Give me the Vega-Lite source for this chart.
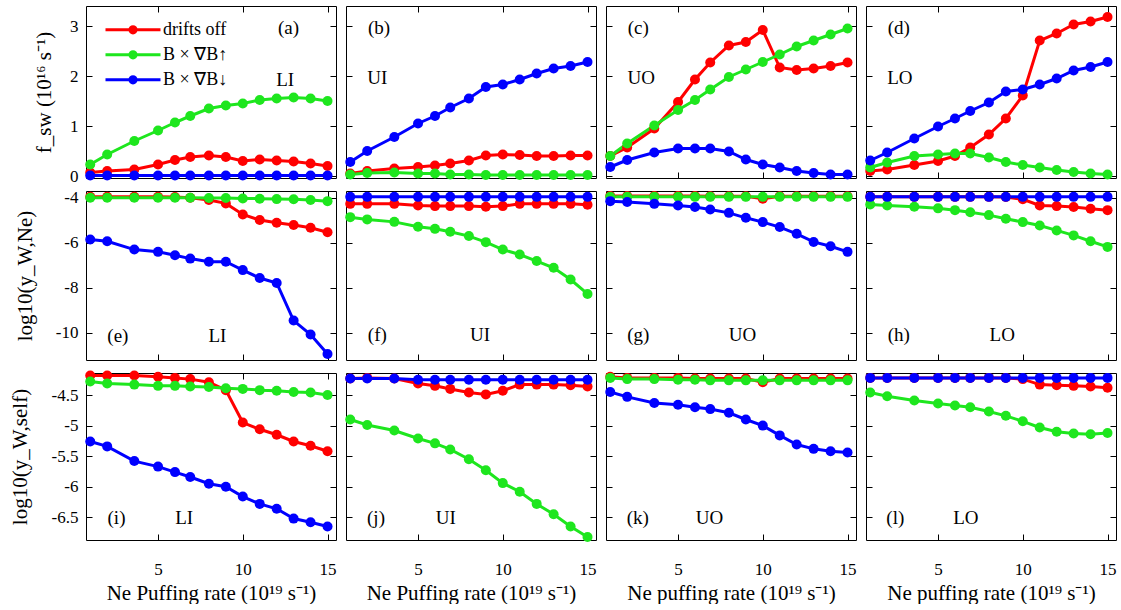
{
"$schema": "https://vega.github.io/schema/vega-lite/v6.json",
"padding": {"left": 8, "top": 5, "right": 4, "bottom": 0},
"background": "white",
"config": {
  "font": "Liberation Serif",
  "view": {"stroke": "#000000", "strokeWidth": 1},
  "axis": {"domain": false, "grid": false, "tickColor": "#000000", "tickSize": -6, "tickWidth": 1, "labelFontSize": 17, "labelColor": "#000000", "labelFont": "Liberation Serif", "titleFont": "Liberation Serif", "titleFontSize": 21, "titleFontWeight": "normal", "titleColor": "#000000", "labelFlush": false},
  "axisLeft": {"labelPadding": 14},
  "axisBottom": {"labelPadding": 27},
  "text": {"font": "Liberation Serif", "fontSize": 19, "color": "#000000"},
  "legend": {"labelFont": "Liberation Serif", "labelColor": "#000000"}
},
"datasets": {"d": [
{"p":"a","x":1,"r":0.07,"g":0.23,"b":0.01},{"p":"a","x":2,"r":0.10,"g":0.43,"b":0.01},{"p":"a","x":3.6,"r":0.13,"g":0.70,"b":0.01},{"p":"a","x":5,"r":0.23,"g":0.91,"b":0.01},{"p":"a","x":6,"r":0.32,"g":1.07,"b":0.01},{"p":"a","x":6.9,"r":0.38,"g":1.20,"b":0.01},{"p":"a","x":8,"r":0.41,"g":1.35,"b":0.01},{"p":"a","x":9,"r":0.38,"g":1.41,"b":0.01},{"p":"a","x":10,"r":0.30,"g":1.45,"b":0.01},{"p":"a","x":11,"r":0.33,"g":1.52,"b":0.01},{"p":"a","x":12,"r":0.31,"g":1.55,"b":0.01},{"p":"a","x":13,"r":0.29,"g":1.57,"b":0.01},{"p":"a","x":14,"r":0.25,"g":1.55,"b":0.01},{"p":"a","x":15,"r":0.20,"g":1.50,"b":0.01},
{"p":"b","x":1,"r":0.05,"g":0.03,"b":0.28},{"p":"b","x":2,"r":0.10,"g":0.06,"b":0.50},{"p":"b","x":3.6,"r":0.15,"g":0.07,"b":0.78},{"p":"b","x":5,"r":0.18,"g":0.05,"b":1.05},{"p":"b","x":6,"r":0.21,"g":0.05,"b":1.20},{"p":"b","x":6.9,"r":0.25,"g":0.03,"b":1.37},{"p":"b","x":8,"r":0.31,"g":0.03,"b":1.55},{"p":"b","x":9,"r":0.41,"g":0.02,"b":1.78},{"p":"b","x":10,"r":0.43,"g":0.02,"b":1.83},{"p":"b","x":11,"r":0.42,"g":0.02,"b":1.93},{"p":"b","x":12,"r":0.40,"g":0.02,"b":2.05},{"p":"b","x":13,"r":0.40,"g":0.02,"b":2.15},{"p":"b","x":14,"r":0.41,"g":0.02,"b":2.20},{"p":"b","x":15,"r":0.41,"g":0.02,"b":2.28},
{"p":"c","x":1,"r":0.40,"g":0.40,"b":0.18},{"p":"c","x":2,"r":0.57,"g":0.65,"b":0.32},{"p":"c","x":3.6,"r":0.95,"g":1.01,"b":0.47},{"p":"c","x":5,"r":1.48,"g":1.32,"b":0.55},{"p":"c","x":6,"r":1.93,"g":1.52,"b":0.55},{"p":"c","x":6.9,"r":2.27,"g":1.73,"b":0.55},{"p":"c","x":8,"r":2.61,"g":1.98,"b":0.49},{"p":"c","x":9,"r":2.68,"g":2.13,"b":0.33},{"p":"c","x":10,"r":2.92,"g":2.28,"b":0.23},{"p":"c","x":11,"r":2.17,"g":2.43,"b":0.17},{"p":"c","x":12,"r":2.12,"g":2.59,"b":0.10},{"p":"c","x":13,"r":2.15,"g":2.71,"b":0.06},{"p":"c","x":14,"r":2.20,"g":2.83,"b":0.03},{"p":"c","x":15,"r":2.27,"g":2.95,"b":0.03},
{"p":"d","x":1,"r":0.10,"g":0.17,"b":0.31},{"p":"d","x":2,"r":0.13,"g":0.27,"b":0.47},{"p":"d","x":3.6,"r":0.22,"g":0.40,"b":0.75},{"p":"d","x":5,"r":0.30,"g":0.43,"b":0.99},{"p":"d","x":6,"r":0.40,"g":0.45,"b":1.15},{"p":"d","x":6.9,"r":0.57,"g":0.45,"b":1.30},{"p":"d","x":8,"r":0.83,"g":0.37,"b":1.47},{"p":"d","x":9,"r":1.15,"g":0.28,"b":1.69},{"p":"d","x":10,"r":1.61,"g":0.22,"b":1.73},{"p":"d","x":11,"r":2.71,"g":0.17,"b":1.83},{"p":"d","x":12,"r":2.85,"g":0.12,"b":1.95},{"p":"d","x":13,"r":3.03,"g":0.08,"b":2.11},{"p":"d","x":14,"r":3.09,"g":0.05,"b":2.18},{"p":"d","x":15,"r":3.18,"g":0.03,"b":2.28},
{"p":"e","x":1,"r":-3.96,"g":-4.0,"b":-5.85},{"p":"e","x":2,"r":-3.96,"g":-4.0,"b":-5.93},{"p":"e","x":3.6,"r":-3.96,"g":-4.0,"b":-6.30},{"p":"e","x":5,"r":-3.96,"g":-4.0,"b":-6.40},{"p":"e","x":6,"r":-3.97,"g":-4.0,"b":-6.55},{"p":"e","x":6.9,"r":-4.0,"g":-4.0,"b":-6.70},{"p":"e","x":8,"r":-4.10,"g":-4.01,"b":-6.84},{"p":"e","x":9,"r":-4.25,"g":-4.01,"b":-6.84},{"p":"e","x":10,"r":-4.74,"g":-4.03,"b":-7.21},{"p":"e","x":11,"r":-4.99,"g":-4.04,"b":-7.56},{"p":"e","x":12,"r":-5.11,"g":-4.06,"b":-7.78},{"p":"e","x":13,"r":-5.21,"g":-4.07,"b":-9.45},{"p":"e","x":14,"r":-5.33,"g":-4.10,"b":-10.07},{"p":"e","x":15,"r":-5.53,"g":-4.15,"b":-10.93},
{"p":"f","x":1,"r":-4.27,"g":-4.86,"b":-3.96},{"p":"f","x":2,"r":-4.27,"g":-4.96,"b":-3.96},{"p":"f","x":3.6,"r":-4.27,"g":-5.07,"b":-3.96},{"p":"f","x":5,"r":-4.34,"g":-5.29,"b":-3.96},{"p":"f","x":6,"r":-4.37,"g":-5.38,"b":-3.96},{"p":"f","x":6.9,"r":-4.37,"g":-5.51,"b":-3.96},{"p":"f","x":8,"r":-4.37,"g":-5.70,"b":-3.96},{"p":"f","x":9,"r":-4.40,"g":-5.97,"b":-3.96},{"p":"f","x":10,"r":-4.37,"g":-6.30,"b":-3.96},{"p":"f","x":11,"r":-4.27,"g":-6.52,"b":-3.96},{"p":"f","x":12,"r":-4.27,"g":-6.81,"b":-3.96},{"p":"f","x":13,"r":-4.27,"g":-7.11,"b":-3.96},{"p":"f","x":14,"r":-4.27,"g":-7.63,"b":-3.96},{"p":"f","x":15,"r":-4.31,"g":-8.27,"b":-3.96},
{"p":"g","x":1,"r":-3.92,"g":-3.96,"b":-4.15},{"p":"g","x":2,"r":-3.92,"g":-3.96,"b":-4.19},{"p":"g","x":3.6,"r":-3.92,"g":-3.96,"b":-4.27},{"p":"g","x":5,"r":-3.92,"g":-3.96,"b":-4.34},{"p":"g","x":6,"r":-3.92,"g":-3.96,"b":-4.41},{"p":"g","x":6.9,"r":-3.93,"g":-3.96,"b":-4.52},{"p":"g","x":8,"r":-3.93,"g":-3.96,"b":-4.67},{"p":"g","x":9,"r":-3.93,"g":-3.96,"b":-4.89},{"p":"g","x":10,"r":-4.04,"g":-3.96,"b":-5.08},{"p":"g","x":11,"r":-3.93,"g":-3.96,"b":-5.30},{"p":"g","x":12,"r":-3.93,"g":-3.96,"b":-5.60},{"p":"g","x":13,"r":-3.93,"g":-3.96,"b":-5.96},{"p":"g","x":14,"r":-3.93,"g":-3.96,"b":-6.15},{"p":"g","x":15,"r":-3.93,"g":-3.96,"b":-6.40},
{"p":"h","x":1,"r":-3.96,"g":-4.30,"b":-3.96},{"p":"h","x":2,"r":-3.96,"g":-4.34,"b":-3.96},{"p":"h","x":3.6,"r":-3.96,"g":-4.40,"b":-3.96},{"p":"h","x":5,"r":-3.96,"g":-4.47,"b":-3.96},{"p":"h","x":6,"r":-3.96,"g":-4.55,"b":-3.96},{"p":"h","x":6.9,"r":-3.96,"g":-4.64,"b":-3.96},{"p":"h","x":8,"r":-3.96,"g":-4.77,"b":-3.96},{"p":"h","x":9,"r":-3.97,"g":-4.93,"b":-3.96},{"p":"h","x":10,"r":-4.07,"g":-5.08,"b":-3.96},{"p":"h","x":11,"r":-4.34,"g":-5.23,"b":-3.96},{"p":"h","x":12,"r":-4.37,"g":-5.45,"b":-3.96},{"p":"h","x":13,"r":-4.41,"g":-5.67,"b":-3.96},{"p":"h","x":14,"r":-4.49,"g":-5.93,"b":-3.96},{"p":"h","x":15,"r":-4.55,"g":-6.18,"b":-3.96},
{"p":"i","x":1,"r":-4.18,"g":-4.28,"b":-5.26},{"p":"i","x":2,"r":-4.18,"g":-4.31,"b":-5.34},{"p":"i","x":3.6,"r":-4.18,"g":-4.33,"b":-5.58},{"p":"i","x":5,"r":-4.20,"g":-4.35,"b":-5.67},{"p":"i","x":6,"r":-4.22,"g":-4.35,"b":-5.76},{"p":"i","x":6.9,"r":-4.24,"g":-4.36,"b":-5.84},{"p":"i","x":8,"r":-4.29,"g":-4.37,"b":-5.95},{"p":"i","x":9,"r":-4.42,"g":-4.39,"b":-6.00},{"p":"i","x":10,"r":-4.95,"g":-4.40,"b":-6.16},{"p":"i","x":11,"r":-5.06,"g":-4.42,"b":-6.28},{"p":"i","x":12,"r":-5.15,"g":-4.43,"b":-6.36},{"p":"i","x":13,"r":-5.26,"g":-4.45,"b":-6.52},{"p":"i","x":14,"r":-5.33,"g":-4.46,"b":-6.58},{"p":"i","x":15,"r":-5.42,"g":-4.50,"b":-6.65},
{"p":"j","x":1,"r":-4.23,"g":-4.90,"b":-4.23},{"p":"j","x":2,"r":-4.22,"g":-4.99,"b":-4.23},{"p":"j","x":3.6,"r":-4.23,"g":-5.08,"b":-4.23},{"p":"j","x":5,"r":-4.31,"g":-5.21,"b":-4.25},{"p":"j","x":6,"r":-4.35,"g":-5.29,"b":-4.25},{"p":"j","x":6.9,"r":-4.40,"g":-5.39,"b":-4.25},{"p":"j","x":8,"r":-4.46,"g":-5.55,"b":-4.25},{"p":"j","x":9,"r":-4.49,"g":-5.73,"b":-4.25},{"p":"j","x":10,"r":-4.43,"g":-5.94,"b":-4.25},{"p":"j","x":11,"r":-4.33,"g":-6.08,"b":-4.25},{"p":"j","x":12,"r":-4.33,"g":-6.28,"b":-4.25},{"p":"j","x":13,"r":-4.33,"g":-6.45,"b":-4.25},{"p":"j","x":14,"r":-4.34,"g":-6.65,"b":-4.25},{"p":"j","x":15,"r":-4.36,"g":-6.82,"b":-4.25},
{"p":"k","x":1,"r":-4.20,"g":-4.22,"b":-4.45},{"p":"k","x":2,"r":-4.22,"g":-4.24,"b":-4.53},{"p":"k","x":3.6,"r":-4.22,"g":-4.24,"b":-4.63},{"p":"k","x":5,"r":-4.22,"g":-4.25,"b":-4.66},{"p":"k","x":6,"r":-4.23,"g":-4.25,"b":-4.70},{"p":"k","x":6.9,"r":-4.23,"g":-4.26,"b":-4.73},{"p":"k","x":8,"r":-4.23,"g":-4.26,"b":-4.79},{"p":"k","x":9,"r":-4.23,"g":-4.26,"b":-4.90},{"p":"k","x":10,"r":-4.29,"g":-4.26,"b":-5.00},{"p":"k","x":11,"r":-4.23,"g":-4.26,"b":-5.16},{"p":"k","x":12,"r":-4.23,"g":-4.26,"b":-5.31},{"p":"k","x":13,"r":-4.23,"g":-4.26,"b":-5.38},{"p":"k","x":14,"r":-4.23,"g":-4.26,"b":-5.42},{"p":"k","x":15,"r":-4.23,"g":-4.26,"b":-5.44},
{"p":"l","x":1,"r":-4.22,"g":-4.46,"b":-4.22},{"p":"l","x":2,"r":-4.22,"g":-4.52,"b":-4.22},{"p":"l","x":3.6,"r":-4.22,"g":-4.59,"b":-4.22},{"p":"l","x":5,"r":-4.22,"g":-4.64,"b":-4.22},{"p":"l","x":6,"r":-4.22,"g":-4.67,"b":-4.22},{"p":"l","x":6.9,"r":-4.22,"g":-4.70,"b":-4.22},{"p":"l","x":8,"r":-4.22,"g":-4.77,"b":-4.22},{"p":"l","x":9,"r":-4.22,"g":-4.84,"b":-4.22},{"p":"l","x":10,"r":-4.24,"g":-4.93,"b":-4.22},{"p":"l","x":11,"r":-4.33,"g":-5.03,"b":-4.22},{"p":"l","x":12,"r":-4.34,"g":-5.10,"b":-4.22},{"p":"l","x":13,"r":-4.35,"g":-5.13,"b":-4.22},{"p":"l","x":14,"r":-4.36,"g":-5.14,"b":-4.22},{"p":"l","x":15,"r":-4.38,"g":-5.12,"b":-4.22}
]},
"spacing": 7,
"vconcat": [
{"spacing": 3, "vconcat": [
{"spacing": 10, "bounds": "flush", "hconcat": [
{"width": 250, "height": 172, "resolve": {"axis": {"x": "independent", "y": "independent"}}, "layer": [
 {"data": {"name": "d"}, "transform": [{"filter": "datum.p=='a'"}, {"fold": ["r","g","b"], "as": ["s","y"]}], "mark": {"type": "line", "strokeWidth": 3},
  "encoding": {"x": {"field": "x", "type": "quantitative", "scale": {"domain": [0.75, 15.5], "nice": false, "zero": false}, "axis": {"orient": "bottom", "values": [5,10,15], "labels": false, "title": null}},
   "y": {"field": "y", "type": "quantitative", "scale": {"domain": [-0.04, 3.4], "nice": false, "zero": false}, "axis": {"orient": "left", "values": [0,1,2,3], "title": "f_sw (10¹⁶ s⁻¹)", "titleX": -42, "titleAngle": 270, "titleBaseline": "middle", "titleAlign": "center", "labelExpr": "replace(format(datum.value,'~g'),'−','-')"}},
   "color": {"field": "s", "type": "nominal", "scale": {"domain": ["r","g","b"], "range": ["#ff0000","#1ee61e","#0000ff"]},
    "legend": {"orient": "none", "legendX": 34, "legendY": 10.8, "title": null, "symbolType": "M-2.46,0L2.46,0M-0.143,0A0.143,0.143,0,1,1,0.143,0A0.143,0.143,0,1,1,-0.143,0M-0.277,0A0.277,0.277,0,1,1,0.277,0A0.277,0.277,0,1,1,-0.277,0", "symbolSize": 500, "symbolStrokeWidth": 3, "labelFontSize": 18, "labelOffset": 17, "rowPadding": 2, "labelExpr": "datum.value=='r'?'drifts off':datum.value=='g'?'B × ∇B↑':'B × ∇B↓'"}}}},
 {"data": {"name": "d"}, "transform": [{"filter": "datum.p=='a'"}, {"fold": ["r","g","b"], "as": ["s","y"]}], "mark": {"type": "circle", "size": 100, "opacity": 1},
  "encoding": {"x": {"field": "x", "type": "quantitative", "scale": {"domain": [0.75, 15.5], "nice": false, "zero": false}, "axis": {"orient": "top", "values": [5,10,15], "labels": false, "title": null}},
   "y": {"field": "y", "type": "quantitative", "scale": {"domain": [-0.04, 3.4], "nice": false, "zero": false}, "axis": {"orient": "right", "values": [0,1,2,3], "labels": false, "title": null}},
   "color": {"field": "s", "type": "nominal", "scale": {"domain": ["r","g","b"], "range": ["#ff0000","#1ee61e","#0000ff"]}, "legend": null},
   "order": {"field": "s", "sort": "descending"}}},
 {"data": {"values": [{}]}, "mark": {"type": "text", "text": "(a)"}, "encoding": {"x": {"datum": 12.7, "type": "quantitative", "scale": {"domain": [0.75, 15.5], "nice": false, "zero": false}, "axis": null}, "y": {"datum": 2.97, "type": "quantitative", "scale": {"domain": [-0.04, 3.4], "nice": false, "zero": false}, "axis": null}}},
 {"data": {"values": [{}]}, "mark": {"type": "text", "text": "LI"}, "encoding": {"x": {"datum": 12.5, "type": "quantitative", "scale": {"domain": [0.75, 15.5], "nice": false, "zero": false}, "axis": null}, "y": {"datum": 1.93, "type": "quantitative", "scale": {"domain": [-0.04, 3.4], "nice": false, "zero": false}, "axis": null}}}
]},
{"width": 250, "height": 172, "resolve": {"axis": {"x": "independent", "y": "independent"}}, "layer": [
 {"data": {"name": "d"}, "transform": [{"filter": "datum.p=='b'"}, {"fold": ["r","g","b"], "as": ["s","y"]}], "mark": {"type": "line", "strokeWidth": 3},
  "encoding": {"x": {"field": "x", "type": "quantitative", "scale": {"domain": [0.75, 15.5], "nice": false, "zero": false}, "axis": {"orient": "bottom", "values": [5,10,15], "labels": false, "title": null}},
   "y": {"field": "y", "type": "quantitative", "scale": {"domain": [-0.04, 3.4], "nice": false, "zero": false}, "axis": {"orient": "left", "values": [0,1,2,3], "labels": false, "title": null}},
   "color": {"field": "s", "type": "nominal", "scale": {"domain": ["r","g","b"], "range": ["#ff0000","#1ee61e","#0000ff"]}, "legend": null}}},
 {"data": {"name": "d"}, "transform": [{"filter": "datum.p=='b'"}, {"fold": ["r","g","b"], "as": ["s","y"]}], "mark": {"type": "circle", "size": 100, "opacity": 1},
  "encoding": {"x": {"field": "x", "type": "quantitative", "scale": {"domain": [0.75, 15.5], "nice": false, "zero": false}, "axis": {"orient": "top", "values": [5,10,15], "labels": false, "title": null}},
   "y": {"field": "y", "type": "quantitative", "scale": {"domain": [-0.04, 3.4], "nice": false, "zero": false}, "axis": {"orient": "right", "values": [0,1,2,3], "labels": false, "title": null}},
   "color": {"field": "s", "type": "nominal", "scale": {"domain": ["r","g","b"], "range": ["#ff0000","#1ee61e","#0000ff"]}, "legend": null},
   "order": {"field": "s", "sort": "descending"}}},
 {"data": {"values": [{}]}, "mark": {"type": "text", "text": "(b)"}, "encoding": {"x": {"datum": 2.7, "type": "quantitative", "scale": {"domain": [0.75, 15.5], "nice": false, "zero": false}, "axis": null}, "y": {"datum": 2.97, "type": "quantitative", "scale": {"domain": [-0.04, 3.4], "nice": false, "zero": false}, "axis": null}}},
 {"data": {"values": [{}]}, "mark": {"type": "text", "text": "UI"}, "encoding": {"x": {"datum": 2.6, "type": "quantitative", "scale": {"domain": [0.75, 15.5], "nice": false, "zero": false}, "axis": null}, "y": {"datum": 1.97, "type": "quantitative", "scale": {"domain": [-0.04, 3.4], "nice": false, "zero": false}, "axis": null}}}
]},
{"width": 250, "height": 172, "resolve": {"axis": {"x": "independent", "y": "independent"}}, "layer": [
 {"data": {"name": "d"}, "transform": [{"filter": "datum.p=='c'"}, {"fold": ["r","g","b"], "as": ["s","y"]}], "mark": {"type": "line", "strokeWidth": 3},
  "encoding": {"x": {"field": "x", "type": "quantitative", "scale": {"domain": [0.75, 15.5], "nice": false, "zero": false}, "axis": {"orient": "bottom", "values": [5,10,15], "labels": false, "title": null}},
   "y": {"field": "y", "type": "quantitative", "scale": {"domain": [-0.04, 3.4], "nice": false, "zero": false}, "axis": {"orient": "left", "values": [0,1,2,3], "labels": false, "title": null}},
   "color": {"field": "s", "type": "nominal", "scale": {"domain": ["r","g","b"], "range": ["#ff0000","#1ee61e","#0000ff"]}, "legend": null}}},
 {"data": {"name": "d"}, "transform": [{"filter": "datum.p=='c'"}, {"fold": ["r","g","b"], "as": ["s","y"]}], "mark": {"type": "circle", "size": 100, "opacity": 1},
  "encoding": {"x": {"field": "x", "type": "quantitative", "scale": {"domain": [0.75, 15.5], "nice": false, "zero": false}, "axis": {"orient": "top", "values": [5,10,15], "labels": false, "title": null}},
   "y": {"field": "y", "type": "quantitative", "scale": {"domain": [-0.04, 3.4], "nice": false, "zero": false}, "axis": {"orient": "right", "values": [0,1,2,3], "labels": false, "title": null}},
   "color": {"field": "s", "type": "nominal", "scale": {"domain": ["r","g","b"], "range": ["#ff0000","#1ee61e","#0000ff"]}, "legend": null},
   "order": {"field": "s", "sort": "descending"}}},
 {"data": {"values": [{}]}, "mark": {"type": "text", "text": "(c)"}, "encoding": {"x": {"datum": 2.65, "type": "quantitative", "scale": {"domain": [0.75, 15.5], "nice": false, "zero": false}, "axis": null}, "y": {"datum": 2.97, "type": "quantitative", "scale": {"domain": [-0.04, 3.4], "nice": false, "zero": false}, "axis": null}}},
 {"data": {"values": [{}]}, "mark": {"type": "text", "text": "UO"}, "encoding": {"x": {"datum": 2.83, "type": "quantitative", "scale": {"domain": [0.75, 15.5], "nice": false, "zero": false}, "axis": null}, "y": {"datum": 1.97, "type": "quantitative", "scale": {"domain": [-0.04, 3.4], "nice": false, "zero": false}, "axis": null}}}
]},
{"width": 250, "height": 172, "resolve": {"axis": {"x": "independent", "y": "independent"}}, "layer": [
 {"data": {"name": "d"}, "transform": [{"filter": "datum.p=='d'"}, {"fold": ["r","g","b"], "as": ["s","y"]}], "mark": {"type": "line", "strokeWidth": 3},
  "encoding": {"x": {"field": "x", "type": "quantitative", "scale": {"domain": [0.75, 15.5], "nice": false, "zero": false}, "axis": {"orient": "bottom", "values": [5,10,15], "labels": false, "title": null}},
   "y": {"field": "y", "type": "quantitative", "scale": {"domain": [-0.04, 3.4], "nice": false, "zero": false}, "axis": {"orient": "left", "values": [0,1,2,3], "labels": false, "title": null}},
   "color": {"field": "s", "type": "nominal", "scale": {"domain": ["r","g","b"], "range": ["#ff0000","#1ee61e","#0000ff"]}, "legend": null}}},
 {"data": {"name": "d"}, "transform": [{"filter": "datum.p=='d'"}, {"fold": ["r","g","b"], "as": ["s","y"]}], "mark": {"type": "circle", "size": 100, "opacity": 1},
  "encoding": {"x": {"field": "x", "type": "quantitative", "scale": {"domain": [0.75, 15.5], "nice": false, "zero": false}, "axis": {"orient": "top", "values": [5,10,15], "labels": false, "title": null}},
   "y": {"field": "y", "type": "quantitative", "scale": {"domain": [-0.04, 3.4], "nice": false, "zero": false}, "axis": {"orient": "right", "values": [0,1,2,3], "labels": false, "title": null}},
   "color": {"field": "s", "type": "nominal", "scale": {"domain": ["r","g","b"], "range": ["#ff0000","#1ee61e","#0000ff"]}, "legend": null},
   "order": {"field": "s", "sort": "descending"}}},
 {"data": {"values": [{}]}, "mark": {"type": "text", "text": "(d)"}, "encoding": {"x": {"datum": 2.68, "type": "quantitative", "scale": {"domain": [0.75, 15.5], "nice": false, "zero": false}, "axis": null}, "y": {"datum": 2.97, "type": "quantitative", "scale": {"domain": [-0.04, 3.4], "nice": false, "zero": false}, "axis": null}}},
 {"data": {"values": [{}]}, "mark": {"type": "text", "text": "LO"}, "encoding": {"x": {"datum": 2.75, "type": "quantitative", "scale": {"domain": [0.75, 15.5], "nice": false, "zero": false}, "axis": null}, "y": {"datum": 1.97, "type": "quantitative", "scale": {"domain": [-0.04, 3.4], "nice": false, "zero": false}, "axis": null}}}
]}
]},
{"spacing": 10, "bounds": "flush", "hconcat": [
{"width": 250, "height": 169, "resolve": {"axis": {"x": "independent", "y": "independent"}}, "layer": [
 {"data": {"name": "d"}, "transform": [{"filter": "datum.p=='e'"}, {"fold": ["r","g","b"], "as": ["s","y"]}], "mark": {"type": "line", "strokeWidth": 3},
  "encoding": {"x": {"field": "x", "type": "quantitative", "scale": {"domain": [0.75, 15.5], "nice": false, "zero": false}, "axis": {"orient": "bottom", "values": [5,10,15], "labels": false, "title": null}},
   "y": {"field": "y", "type": "quantitative", "scale": {"domain": [-11.2, -3.7], "nice": false, "zero": false}, "axis": {"orient": "left", "values": [-10,-8,-6,-4], "title": "log10(y_W,Ne)", "titleX": -61, "titleAngle": 270, "titleBaseline": "middle", "titleAlign": "center", "labelExpr": "replace(format(datum.value,'~g'),'−','-')"}},
   "color": {"field": "s", "type": "nominal", "scale": {"domain": ["r","g","b"], "range": ["#ff0000","#1ee61e","#0000ff"]}, "legend": null}}},
 {"data": {"name": "d"}, "transform": [{"filter": "datum.p=='e'"}, {"fold": ["r","g","b"], "as": ["s","y"]}], "mark": {"type": "circle", "size": 100, "opacity": 1},
  "encoding": {"x": {"field": "x", "type": "quantitative", "scale": {"domain": [0.75, 15.5], "nice": false, "zero": false}, "axis": {"orient": "top", "values": [5,10,15], "labels": false, "title": null}},
   "y": {"field": "y", "type": "quantitative", "scale": {"domain": [-11.2, -3.7], "nice": false, "zero": false}, "axis": {"orient": "right", "values": [-10,-8,-6,-4], "labels": false, "title": null}},
   "color": {"field": "s", "type": "nominal", "scale": {"domain": ["r","g","b"], "range": ["#ff0000","#1ee61e","#0000ff"]}, "legend": null},
   "order": {"field": "s", "sort": "descending"}}},
 {"data": {"values": [{}]}, "mark": {"type": "text", "text": "(e)"}, "encoding": {"x": {"datum": 2.63, "type": "quantitative", "scale": {"domain": [0.75, 15.5], "nice": false, "zero": false}, "axis": null}, "y": {"datum": -10.15, "type": "quantitative", "scale": {"domain": [-11.2, -3.7], "nice": false, "zero": false}, "axis": null}}},
 {"data": {"values": [{}]}, "mark": {"type": "text", "text": "LI"}, "encoding": {"x": {"datum": 8.5, "type": "quantitative", "scale": {"domain": [0.75, 15.5], "nice": false, "zero": false}, "axis": null}, "y": {"datum": -10.15, "type": "quantitative", "scale": {"domain": [-11.2, -3.7], "nice": false, "zero": false}, "axis": null}}}
]},
{"width": 250, "height": 169, "resolve": {"axis": {"x": "independent", "y": "independent"}}, "layer": [
 {"data": {"name": "d"}, "transform": [{"filter": "datum.p=='f'"}, {"fold": ["r","g","b"], "as": ["s","y"]}], "mark": {"type": "line", "strokeWidth": 3},
  "encoding": {"x": {"field": "x", "type": "quantitative", "scale": {"domain": [0.75, 15.5], "nice": false, "zero": false}, "axis": {"orient": "bottom", "values": [5,10,15], "labels": false, "title": null}},
   "y": {"field": "y", "type": "quantitative", "scale": {"domain": [-11.2, -3.7], "nice": false, "zero": false}, "axis": {"orient": "left", "values": [-10,-8,-6,-4], "labels": false, "title": null}},
   "color": {"field": "s", "type": "nominal", "scale": {"domain": ["r","g","b"], "range": ["#ff0000","#1ee61e","#0000ff"]}, "legend": null}}},
 {"data": {"name": "d"}, "transform": [{"filter": "datum.p=='f'"}, {"fold": ["r","g","b"], "as": ["s","y"]}], "mark": {"type": "circle", "size": 100, "opacity": 1},
  "encoding": {"x": {"field": "x", "type": "quantitative", "scale": {"domain": [0.75, 15.5], "nice": false, "zero": false}, "axis": {"orient": "top", "values": [5,10,15], "labels": false, "title": null}},
   "y": {"field": "y", "type": "quantitative", "scale": {"domain": [-11.2, -3.7], "nice": false, "zero": false}, "axis": {"orient": "right", "values": [-10,-8,-6,-4], "labels": false, "title": null}},
   "color": {"field": "s", "type": "nominal", "scale": {"domain": ["r","g","b"], "range": ["#ff0000","#1ee61e","#0000ff"]}, "legend": null},
   "order": {"field": "s", "sort": "descending"}}},
 {"data": {"values": [{}]}, "mark": {"type": "text", "text": "(f)"}, "encoding": {"x": {"datum": 2.6, "type": "quantitative", "scale": {"domain": [0.75, 15.5], "nice": false, "zero": false}, "axis": null}, "y": {"datum": -10.07, "type": "quantitative", "scale": {"domain": [-11.2, -3.7], "nice": false, "zero": false}, "axis": null}}},
 {"data": {"values": [{}]}, "mark": {"type": "text", "text": "UI"}, "encoding": {"x": {"datum": 8.66, "type": "quantitative", "scale": {"domain": [0.75, 15.5], "nice": false, "zero": false}, "axis": null}, "y": {"datum": -10.07, "type": "quantitative", "scale": {"domain": [-11.2, -3.7], "nice": false, "zero": false}, "axis": null}}}
]},
{"width": 250, "height": 169, "resolve": {"axis": {"x": "independent", "y": "independent"}}, "layer": [
 {"data": {"name": "d"}, "transform": [{"filter": "datum.p=='g'"}, {"fold": ["r","g","b"], "as": ["s","y"]}], "mark": {"type": "line", "strokeWidth": 3},
  "encoding": {"x": {"field": "x", "type": "quantitative", "scale": {"domain": [0.75, 15.5], "nice": false, "zero": false}, "axis": {"orient": "bottom", "values": [5,10,15], "labels": false, "title": null}},
   "y": {"field": "y", "type": "quantitative", "scale": {"domain": [-11.2, -3.7], "nice": false, "zero": false}, "axis": {"orient": "left", "values": [-10,-8,-6,-4], "labels": false, "title": null}},
   "color": {"field": "s", "type": "nominal", "scale": {"domain": ["r","g","b"], "range": ["#ff0000","#1ee61e","#0000ff"]}, "legend": null}}},
 {"data": {"name": "d"}, "transform": [{"filter": "datum.p=='g'"}, {"fold": ["r","g","b"], "as": ["s","y"]}], "mark": {"type": "circle", "size": 100, "opacity": 1},
  "encoding": {"x": {"field": "x", "type": "quantitative", "scale": {"domain": [0.75, 15.5], "nice": false, "zero": false}, "axis": {"orient": "top", "values": [5,10,15], "labels": false, "title": null}},
   "y": {"field": "y", "type": "quantitative", "scale": {"domain": [-11.2, -3.7], "nice": false, "zero": false}, "axis": {"orient": "right", "values": [-10,-8,-6,-4], "labels": false, "title": null}},
   "color": {"field": "s", "type": "nominal", "scale": {"domain": ["r","g","b"], "range": ["#ff0000","#1ee61e","#0000ff"]}, "legend": null},
   "order": {"field": "s", "sort": "descending"}}},
 {"data": {"values": [{}]}, "mark": {"type": "text", "text": "(g)"}, "encoding": {"x": {"datum": 2.66, "type": "quantitative", "scale": {"domain": [0.75, 15.5], "nice": false, "zero": false}, "axis": null}, "y": {"datum": -10.07, "type": "quantitative", "scale": {"domain": [-11.2, -3.7], "nice": false, "zero": false}, "axis": null}}},
 {"data": {"values": [{}]}, "mark": {"type": "text", "text": "UO"}, "encoding": {"x": {"datum": 8.8, "type": "quantitative", "scale": {"domain": [0.75, 15.5], "nice": false, "zero": false}, "axis": null}, "y": {"datum": -10.07, "type": "quantitative", "scale": {"domain": [-11.2, -3.7], "nice": false, "zero": false}, "axis": null}}}
]},
{"width": 250, "height": 169, "resolve": {"axis": {"x": "independent", "y": "independent"}}, "layer": [
 {"data": {"name": "d"}, "transform": [{"filter": "datum.p=='h'"}, {"fold": ["r","g","b"], "as": ["s","y"]}], "mark": {"type": "line", "strokeWidth": 3},
  "encoding": {"x": {"field": "x", "type": "quantitative", "scale": {"domain": [0.75, 15.5], "nice": false, "zero": false}, "axis": {"orient": "bottom", "values": [5,10,15], "labels": false, "title": null}},
   "y": {"field": "y", "type": "quantitative", "scale": {"domain": [-11.2, -3.7], "nice": false, "zero": false}, "axis": {"orient": "left", "values": [-10,-8,-6,-4], "labels": false, "title": null}},
   "color": {"field": "s", "type": "nominal", "scale": {"domain": ["r","g","b"], "range": ["#ff0000","#1ee61e","#0000ff"]}, "legend": null}}},
 {"data": {"name": "d"}, "transform": [{"filter": "datum.p=='h'"}, {"fold": ["r","g","b"], "as": ["s","y"]}], "mark": {"type": "circle", "size": 100, "opacity": 1},
  "encoding": {"x": {"field": "x", "type": "quantitative", "scale": {"domain": [0.75, 15.5], "nice": false, "zero": false}, "axis": {"orient": "top", "values": [5,10,15], "labels": false, "title": null}},
   "y": {"field": "y", "type": "quantitative", "scale": {"domain": [-11.2, -3.7], "nice": false, "zero": false}, "axis": {"orient": "right", "values": [-10,-8,-6,-4], "labels": false, "title": null}},
   "color": {"field": "s", "type": "nominal", "scale": {"domain": ["r","g","b"], "range": ["#ff0000","#1ee61e","#0000ff"]}, "legend": null},
   "order": {"field": "s", "sort": "descending"}}},
 {"data": {"values": [{}]}, "mark": {"type": "text", "text": "(h)"}, "encoding": {"x": {"datum": 2.68, "type": "quantitative", "scale": {"domain": [0.75, 15.5], "nice": false, "zero": false}, "axis": null}, "y": {"datum": -10.07, "type": "quantitative", "scale": {"domain": [-11.2, -3.7], "nice": false, "zero": false}, "axis": null}}},
 {"data": {"values": [{}]}, "mark": {"type": "text", "text": "LO"}, "encoding": {"x": {"datum": 8.79, "type": "quantitative", "scale": {"domain": [0.75, 15.5], "nice": false, "zero": false}, "axis": null}, "y": {"datum": -10.07, "type": "quantitative", "scale": {"domain": [-11.2, -3.7], "nice": false, "zero": false}, "axis": null}}}
]}
]}
]},
{"spacing": 10, "bounds": "flush", "hconcat": [
{"width": 250, "height": 167, "resolve": {"axis": {"x": "independent", "y": "independent"}}, "layer": [
 {"data": {"name": "d"}, "transform": [{"filter": "datum.p=='i'"}, {"fold": ["r","g","b"], "as": ["s","y"]}], "mark": {"type": "line", "strokeWidth": 3},
  "encoding": {"x": {"field": "x", "type": "quantitative", "scale": {"domain": [0.75, 15.5], "nice": false, "zero": false}, "axis": {"orient": "bottom", "values": [5,10,15], "title": "Ne Puffing rate (10¹⁹ s⁻¹)", "titleY": 59, "titleBaseline": "alphabetic"}},
   "y": {"field": "y", "type": "quantitative", "scale": {"domain": [-6.87, -4.14], "nice": false, "zero": false}, "axis": {"orient": "left", "values": [-6.5,-6,-5.5,-5,-4.5], "title": "log10(y_W,self)", "titleX": -66, "titleAngle": 270, "titleBaseline": "middle", "titleAlign": "center", "labelExpr": "replace(format(datum.value,'~g'),'−','-')"}},
   "color": {"field": "s", "type": "nominal", "scale": {"domain": ["r","g","b"], "range": ["#ff0000","#1ee61e","#0000ff"]}, "legend": null}}},
 {"data": {"name": "d"}, "transform": [{"filter": "datum.p=='i'"}, {"fold": ["r","g","b"], "as": ["s","y"]}], "mark": {"type": "circle", "size": 100, "opacity": 1},
  "encoding": {"x": {"field": "x", "type": "quantitative", "scale": {"domain": [0.75, 15.5], "nice": false, "zero": false}, "axis": {"orient": "top", "values": [5,10,15], "labels": false, "title": null}},
   "y": {"field": "y", "type": "quantitative", "scale": {"domain": [-6.87, -4.14], "nice": false, "zero": false}, "axis": {"orient": "right", "values": [-6.5,-6,-5.5,-5,-4.5], "labels": false, "title": null}},
   "color": {"field": "s", "type": "nominal", "scale": {"domain": ["r","g","b"], "range": ["#ff0000","#1ee61e","#0000ff"]}, "legend": null},
   "order": {"field": "s", "sort": "descending"}}},
 {"data": {"values": [{}]}, "mark": {"type": "text", "text": "(i)"}, "encoding": {"x": {"datum": 2.55, "type": "quantitative", "scale": {"domain": [0.75, 15.5], "nice": false, "zero": false}, "axis": null}, "y": {"datum": -6.51, "type": "quantitative", "scale": {"domain": [-6.87, -4.14], "nice": false, "zero": false}, "axis": null}}},
 {"data": {"values": [{}]}, "mark": {"type": "text", "text": "LI"}, "encoding": {"x": {"datum": 6.54, "type": "quantitative", "scale": {"domain": [0.75, 15.5], "nice": false, "zero": false}, "axis": null}, "y": {"datum": -6.51, "type": "quantitative", "scale": {"domain": [-6.87, -4.14], "nice": false, "zero": false}, "axis": null}}}
]},
{"width": 250, "height": 167, "resolve": {"axis": {"x": "independent", "y": "independent"}}, "layer": [
 {"data": {"name": "d"}, "transform": [{"filter": "datum.p=='j'"}, {"fold": ["r","g","b"], "as": ["s","y"]}], "mark": {"type": "line", "strokeWidth": 3},
  "encoding": {"x": {"field": "x", "type": "quantitative", "scale": {"domain": [0.75, 15.5], "nice": false, "zero": false}, "axis": {"orient": "bottom", "values": [5,10,15], "title": "Ne Puffing rate (10¹⁹ s⁻¹)", "titleY": 59, "titleBaseline": "alphabetic"}},
   "y": {"field": "y", "type": "quantitative", "scale": {"domain": [-6.87, -4.14], "nice": false, "zero": false}, "axis": {"orient": "left", "values": [-6.5,-6,-5.5,-5,-4.5], "labels": false, "title": null}},
   "color": {"field": "s", "type": "nominal", "scale": {"domain": ["r","g","b"], "range": ["#ff0000","#1ee61e","#0000ff"]}, "legend": null}}},
 {"data": {"name": "d"}, "transform": [{"filter": "datum.p=='j'"}, {"fold": ["r","g","b"], "as": ["s","y"]}], "mark": {"type": "circle", "size": 100, "opacity": 1},
  "encoding": {"x": {"field": "x", "type": "quantitative", "scale": {"domain": [0.75, 15.5], "nice": false, "zero": false}, "axis": {"orient": "top", "values": [5,10,15], "labels": false, "title": null}},
   "y": {"field": "y", "type": "quantitative", "scale": {"domain": [-6.87, -4.14], "nice": false, "zero": false}, "axis": {"orient": "right", "values": [-6.5,-6,-5.5,-5,-4.5], "labels": false, "title": null}},
   "color": {"field": "s", "type": "nominal", "scale": {"domain": ["r","g","b"], "range": ["#ff0000","#1ee61e","#0000ff"]}, "legend": null},
   "order": {"field": "s", "sort": "descending"}}},
 {"data": {"values": [{}]}, "mark": {"type": "text", "text": "(j)"}, "encoding": {"x": {"datum": 2.52, "type": "quantitative", "scale": {"domain": [0.75, 15.5], "nice": false, "zero": false}, "axis": null}, "y": {"datum": -6.51, "type": "quantitative", "scale": {"domain": [-6.87, -4.14], "nice": false, "zero": false}, "axis": null}}},
 {"data": {"values": [{}]}, "mark": {"type": "text", "text": "UI"}, "encoding": {"x": {"datum": 6.64, "type": "quantitative", "scale": {"domain": [0.75, 15.5], "nice": false, "zero": false}, "axis": null}, "y": {"datum": -6.51, "type": "quantitative", "scale": {"domain": [-6.87, -4.14], "nice": false, "zero": false}, "axis": null}}}
]},
{"width": 250, "height": 167, "resolve": {"axis": {"x": "independent", "y": "independent"}}, "layer": [
 {"data": {"name": "d"}, "transform": [{"filter": "datum.p=='k'"}, {"fold": ["r","g","b"], "as": ["s","y"]}], "mark": {"type": "line", "strokeWidth": 3},
  "encoding": {"x": {"field": "x", "type": "quantitative", "scale": {"domain": [0.75, 15.5], "nice": false, "zero": false}, "axis": {"orient": "bottom", "values": [5,10,15], "title": "Ne puffing rate (10¹⁹ s⁻¹)", "titleY": 59, "titleBaseline": "alphabetic"}},
   "y": {"field": "y", "type": "quantitative", "scale": {"domain": [-6.87, -4.14], "nice": false, "zero": false}, "axis": {"orient": "left", "values": [-6.5,-6,-5.5,-5,-4.5], "labels": false, "title": null}},
   "color": {"field": "s", "type": "nominal", "scale": {"domain": ["r","g","b"], "range": ["#ff0000","#1ee61e","#0000ff"]}, "legend": null}}},
 {"data": {"name": "d"}, "transform": [{"filter": "datum.p=='k'"}, {"fold": ["r","g","b"], "as": ["s","y"]}], "mark": {"type": "circle", "size": 100, "opacity": 1},
  "encoding": {"x": {"field": "x", "type": "quantitative", "scale": {"domain": [0.75, 15.5], "nice": false, "zero": false}, "axis": {"orient": "top", "values": [5,10,15], "labels": false, "title": null}},
   "y": {"field": "y", "type": "quantitative", "scale": {"domain": [-6.87, -4.14], "nice": false, "zero": false}, "axis": {"orient": "right", "values": [-6.5,-6,-5.5,-5,-4.5], "labels": false, "title": null}},
   "color": {"field": "s", "type": "nominal", "scale": {"domain": ["r","g","b"], "range": ["#ff0000","#1ee61e","#0000ff"]}, "legend": null},
   "order": {"field": "s", "sort": "descending"}}},
 {"data": {"values": [{}]}, "mark": {"type": "text", "text": "(k)"}, "encoding": {"x": {"datum": 2.63, "type": "quantitative", "scale": {"domain": [0.75, 15.5], "nice": false, "zero": false}, "axis": null}, "y": {"datum": -6.51, "type": "quantitative", "scale": {"domain": [-6.87, -4.14], "nice": false, "zero": false}, "axis": null}}},
 {"data": {"values": [{}]}, "mark": {"type": "text", "text": "UO"}, "encoding": {"x": {"datum": 6.86, "type": "quantitative", "scale": {"domain": [0.75, 15.5], "nice": false, "zero": false}, "axis": null}, "y": {"datum": -6.51, "type": "quantitative", "scale": {"domain": [-6.87, -4.14], "nice": false, "zero": false}, "axis": null}}}
]},
{"width": 250, "height": 167, "resolve": {"axis": {"x": "independent", "y": "independent"}}, "layer": [
 {"data": {"name": "d"}, "transform": [{"filter": "datum.p=='l'"}, {"fold": ["r","g","b"], "as": ["s","y"]}], "mark": {"type": "line", "strokeWidth": 3},
  "encoding": {"x": {"field": "x", "type": "quantitative", "scale": {"domain": [0.75, 15.5], "nice": false, "zero": false}, "axis": {"orient": "bottom", "values": [5,10,15], "title": "Ne puffing rate (10¹⁹ s⁻¹)", "titleY": 59, "titleBaseline": "alphabetic"}},
   "y": {"field": "y", "type": "quantitative", "scale": {"domain": [-6.87, -4.14], "nice": false, "zero": false}, "axis": {"orient": "left", "values": [-6.5,-6,-5.5,-5,-4.5], "labels": false, "title": null}},
   "color": {"field": "s", "type": "nominal", "scale": {"domain": ["r","g","b"], "range": ["#ff0000","#1ee61e","#0000ff"]}, "legend": null}}},
 {"data": {"name": "d"}, "transform": [{"filter": "datum.p=='l'"}, {"fold": ["r","g","b"], "as": ["s","y"]}], "mark": {"type": "circle", "size": 100, "opacity": 1},
  "encoding": {"x": {"field": "x", "type": "quantitative", "scale": {"domain": [0.75, 15.5], "nice": false, "zero": false}, "axis": {"orient": "top", "values": [5,10,15], "labels": false, "title": null}},
   "y": {"field": "y", "type": "quantitative", "scale": {"domain": [-6.87, -4.14], "nice": false, "zero": false}, "axis": {"orient": "right", "values": [-6.5,-6,-5.5,-5,-4.5], "labels": false, "title": null}},
   "color": {"field": "s", "type": "nominal", "scale": {"domain": ["r","g","b"], "range": ["#ff0000","#1ee61e","#0000ff"]}, "legend": null},
   "order": {"field": "s", "sort": "descending"}}},
 {"data": {"values": [{}]}, "mark": {"type": "text", "text": "(l)"}, "encoding": {"x": {"datum": 2.48, "type": "quantitative", "scale": {"domain": [0.75, 15.5], "nice": false, "zero": false}, "axis": null}, "y": {"datum": -6.51, "type": "quantitative", "scale": {"domain": [-6.87, -4.14], "nice": false, "zero": false}, "axis": null}}},
 {"data": {"values": [{}]}, "mark": {"type": "text", "text": "LO"}, "encoding": {"x": {"datum": 6.64, "type": "quantitative", "scale": {"domain": [0.75, 15.5], "nice": false, "zero": false}, "axis": null}, "y": {"datum": -6.51, "type": "quantitative", "scale": {"domain": [-6.87, -4.14], "nice": false, "zero": false}, "axis": null}}}
]}
]}
]
}
